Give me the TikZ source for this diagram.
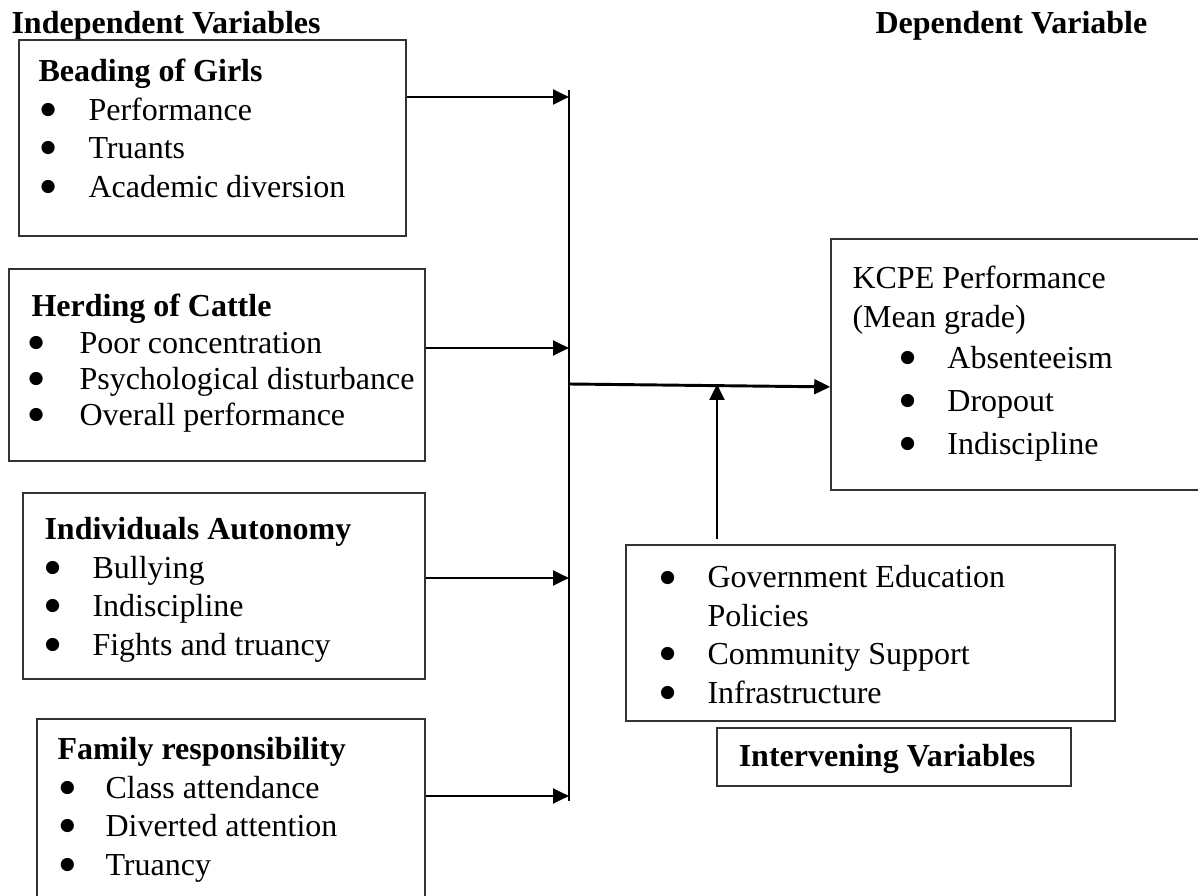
\documentclass[tikz,border=0pt]{standalone}
\usepackage{fontspec}
\setmainfont{Liberation Serif}
\newfontfamily\dotfont{DejaVu Sans}
\usetikzlibrary{arrows.meta,positioning,fit}

\newlength\bulw
\newlength\bulo
\newcommand{\itm}{\makebox[\bulw][l]{\hspace{\bulo}\raisebox{2.2pt}{\dotfont\fontsize{6.5}{7}\selectfont ●}}&}

\tikzset{
  box/.style={draw=black!80, line width=0.6pt, inner sep=0pt},
  txt/.style={inner sep=0pt, anchor=base west, font=\fontsize{12}{14.4}\selectfont},
  arr/.style={-{Triangle[length=6pt,width=5.5pt]}, line width=1.1pt},
}

\begin{document}
\begin{tikzpicture}[x=0.375pt, y=-0.375pt]
    \useasboundingbox (0,0) rectangle (1198,896);

    % headings
    \node[txt, font=\fontsize{12}{14.4}\selectfont\bfseries] (indep) at (11,34) {Independent Variables};
    \node[txt, font=\fontsize{12}{14.4}\selectfont\bfseries] (dep) at (875,34) {Dependent Variable};

    % boxes
    \node[box, fit={(19,40) (406,236)}] (beading) {};
    \node[box, fit={(9,269) (425,461)}] (herding) {};
    \node[box, fit={(23,493) (425,679)}] (autonomy) {};
    \node[box, fit={(37,719) (425,910)}] (family) {};
    \node[box, fit={(831,239) (1210,490)}] (kcpe) {};
    \node[box, fit={(626,545) (1115,721)}] (interv) {};
    \node[box, fit={(717,728) (1071,786)}] (ivlabel) {};
    \node[txt, anchor=center, font=\fontsize{12}{14.4}\selectfont\bfseries] (ivlabeltxt) at ([xshift=-2.6pt,yshift=-0.8pt]ivlabel.center) {Intervening Variables};

    % box contents
    \node[txt] (beadingtxt) at (38,82) {\setlength\bulw{18.75pt}\setlength\bulo{0.75pt}%
      \begin{tabular}[t]{@{}l@{}l@{}}
        \multicolumn{2}{@{}l@{}}{\bfseries Beading of Girls}\\
        \itm Performance\\
        \itm Truants\\
        \itm Academic diversion
      \end{tabular}};
    \node[txt] (herdingtxt) at (31,317) {\setlength\bulw{18pt}\setlength\bulo{-1.1pt}%
      \begin{tabular}[t]{@{}l@{}l@{}}
        \multicolumn{2}{@{}l@{}}{\bfseries Herding of Cattle}\\[-0.8pt]
        \itm Poor concentration\\[-0.8pt]
        \itm Psychological disturbance\\[-0.8pt]
        \itm Overall performance
      \end{tabular}};
    \node[txt] (autonomytxt) at (44,540) {\setlength\bulw{18pt}\setlength\bulo{0.2pt}%
      \begin{tabular}[t]{@{}l@{}l@{}}
        \multicolumn{2}{@{}l@{}}{\bfseries Individuals Autonomy}\\
        \itm Bullying\\
        \itm Indiscipline\\
        \itm Fights and truancy
      \end{tabular}};
    \node[txt] (familytxt) at (57,760) {\setlength\bulw{18pt}\setlength\bulo{0.9pt}%
      \begin{tabular}[t]{@{}l@{}l@{}}
        \multicolumn{2}{@{}l@{}}{\bfseries Family responsibility}\\
        \itm Class attendance\\
        \itm Diverted attention\\
        \itm Truancy
      \end{tabular}};
    \node[txt] (kcpetxt) at (852,289) {\setlength\bulw{35.6pt}\setlength\bulo{17.8pt}%
      \begin{tabular}[t]{@{}l@{}l@{}}
        \multicolumn{2}{@{}l@{}}{KCPE Performance}\\
        \multicolumn{2}{@{}l@{}}{(Mean grade)}\\[1.1pt]
        \itm Absenteeism\\[1.7pt]
        \itm Dropout\\[1.7pt]
        \itm Indiscipline
      \end{tabular}};
    \node[txt] (intervtxt) at (659.5,588) {\setlength\bulw{17.8pt}\setlength\bulo{0pt}%
      \begin{tabular}[t]{@{}l@{}l@{}}
        \itm Government Education\\
        & Policies\\
        \itm Community Support\\
        \itm Infrastructure
      \end{tabular}};

    % collecting line and junctions
    \coordinate (bustop) at (569,90);
    \coordinate (busbot) at (569,801);
    \coordinate (j1) at (569,97);
    \coordinate (j2) at (569,348);
    \coordinate (j3) at (569,578);
    \coordinate (j4) at (569,796);
    \coordinate (jm) at (569,384);
    \coordinate (up0) at (717,539);
    \draw[line width=0.8pt] (bustop) -- (busbot);

    \draw[arr] (beading.east |- j1) -- (j1);
    \draw[arr] (herding.east |- j2) -- (j2);
    \draw[arr] (autonomy.east |- j3) -- (j3);
    \draw[arr] (family.east |- j4) -- (j4);
    \draw[arr] (jm) -- ([yshift=-8.4pt]kcpe.west);
    \draw[arr] (up0) -- (up0 |- jm);
\end{tikzpicture}
\end{document}
